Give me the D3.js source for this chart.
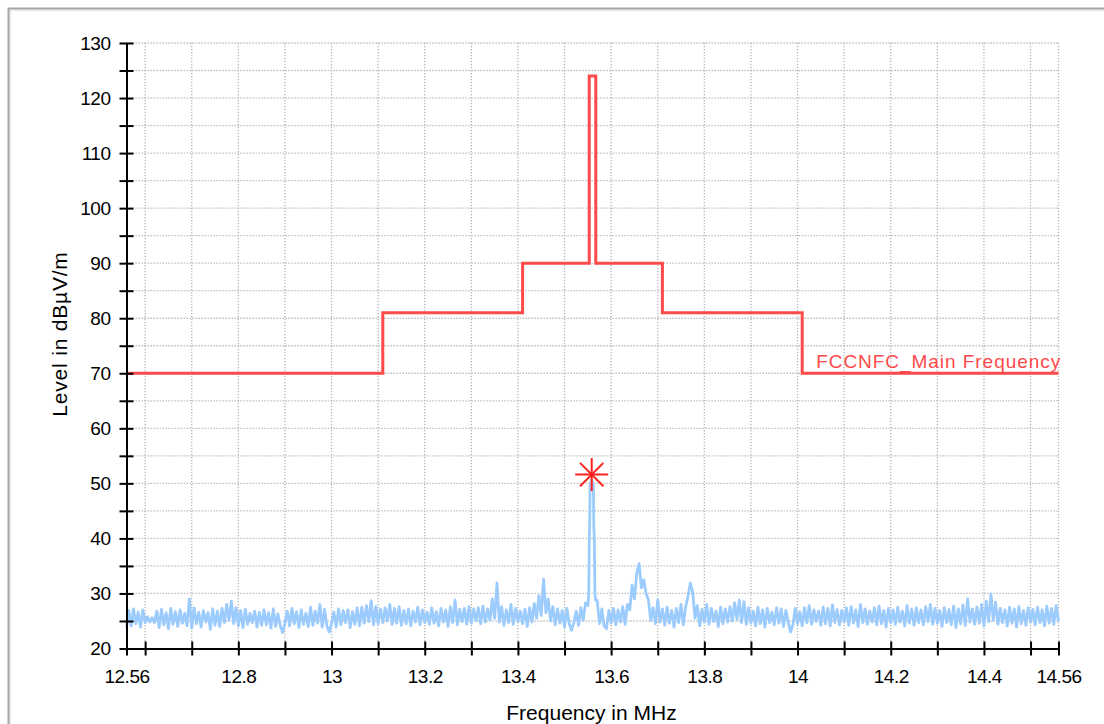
<!DOCTYPE html>
<html>
<head>
<meta charset="utf-8">
<script src="https://cdn.jsdelivr.net/npm/d3@7/dist/d3.min.js"></script>
<style>
  body { margin: 0; background: #fff; }
  svg { display: block; font-family: 'Liberation Sans', Arial, sans-serif; }
</style>
</head>
<body>
<div class="chart"></div>
<script>
// Limit line (FCC NFC main frequency mask), step after each start frequency
const limitFreq = [12.56, 13.11, 13.41, 13.553, 13.567, 13.71, 14.01, 14.56]
const limitLevel = [70, 81, 90, 124, 90, 81, 70, 70]
const limitName = 'FCCNFC_Main Frequency'

// Measured trace, one value every 0.005 MHz from 12.56 (null = covered by the peak below)
const noiseStart = 12.56
const noiseStep = 0.005
const noiseLevel = [
  23.8, 26.9, 24.1, 27.2, 24.5, 26.6, 23.9, 27.0, 24.7, 25.8,
  24.8, 25.6, 24.7, 26.8, 23.8, 27.1, 24.3, 26.5, 23.6, 27.3,
  24.4, 26.7, 24.0, 27.0, 24.6, 26.4, 24.1, 29.0, 23.7, 27.4,
  24.5, 26.6, 23.9, 26.9, 24.8, 26.5, 23.5, 27.2, 24.2, 26.8,
  24.0, 27.3, 24.7, 28.0, 25.1, 28.6, 24.5, 27.4, 24.1, 26.9,
  23.8, 27.1, 24.4, 26.4, 24.7, 26.8, 23.9, 26.6, 24.2, 27.0,
  24.3, 26.5, 23.7, 27.2, 24.0, 26.3, 24.1, 22.9, 24.6, 26.8,
  24.1, 27.3, 24.5, 26.7, 23.8, 27.0, 24.4, 26.4, 24.0, 27.5,
  24.2, 26.8, 24.6, 28.0, 23.9, 27.1, 24.1, 23.0, 24.5, 26.6,
  23.9, 27.2, 24.3, 26.9, 24.7, 27.0, 23.8, 26.7, 24.4, 27.4,
  24.1, 27.5, 24.6, 27.8, 24.9, 28.7, 24.3, 27.6, 24.5, 27.2,
  24.7, 27.4, 25.0, 28.0, 24.4, 27.3, 24.6, 27.6, 24.2, 26.9,
  24.5, 27.2, 24.1, 26.8, 24.8, 27.5, 24.3, 27.0, 24.7, 26.6,
  24.4, 27.4, 24.6, 26.7, 24.1, 27.3, 24.8, 27.0, 24.0, 27.6,
  24.7, 28.8, 24.3, 27.1, 24.9, 27.3, 24.4, 27.6, 24.6, 27.2,
  25.0, 27.4, 24.5, 27.7, 24.8, 27.2, 25.1, 29.0, 25.5, 31.9,
  24.8, 27.6, 24.2, 27.0, 24.7, 28.0, 24.4, 27.3, 24.9, 26.8,
  24.5, 27.1, 24.0, 27.4, 24.8, 28.2, 25.5, 29.6, 26.0, 32.6,
  26.5, 29.0, 25.0, 27.6, 24.3, 27.2, 24.6, 26.9, 23.9, 27.3,
  24.5, 23.3, 24.7, 26.8, 24.2, 27.4, 25.1, 28.3, 27.8, null,
  null, null, 28.8, 24.5, 27.2, 24.1, 23.6, 26.9, 24.6, 27.3,
  24.3, 27.0, 24.8, 27.6, 24.4, 28.0, 27.0, 31.5, 29.0, 33.7,
  35.4, 31.0, 32.5, 30.0, 28.8, 25.1, 27.4, 24.5, 28.8, 24.8,
  27.2, 24.2, 27.5, 24.6, 26.9, 23.9, 27.3, 24.7, 28.0, 24.3,
  27.6, 29.5, 31.9, 30.2, 25.5, 27.8, 24.1, 27.1, 24.8, 28.0,
  24.4, 27.3, 24.9, 26.8, 24.0, 27.5, 24.5, 27.2, 24.8, 27.6,
  25.0, 28.3, 25.3, 28.8, 24.7, 28.5, 24.4, 27.4, 24.6, 26.8,
  24.1, 27.5, 24.5, 27.0, 23.9, 27.3, 24.7, 26.6, 24.3, 27.4,
  24.6, 27.2, 24.0, 26.9, 24.8, 23.0, 24.3, 27.3, 24.5, 26.7,
  24.1, 27.4, 24.7, 27.8, 24.4, 27.0, 24.9, 26.8, 24.2, 27.5,
  24.5, 27.3, 24.1, 27.9, 24.7, 27.1, 24.3, 26.9, 24.8, 27.4,
  24.2, 27.6, 24.6, 27.0, 24.0, 28.0, 24.7, 27.2, 24.4, 26.8,
  24.8, 27.4, 24.3, 27.7, 24.5, 26.9, 23.9, 27.3, 24.7, 27.0,
  24.4, 27.5, 24.8, 26.8, 24.1, 27.8, 24.6, 27.2, 24.2, 27.4,
  24.7, 27.0, 24.3, 27.6, 24.9, 28.0, 24.4, 27.3, 24.6, 26.9,
  24.0, 27.4, 24.7, 27.1, 24.3, 27.7, 23.8, 27.2, 24.5, 27.9,
  24.2, 29.0, 24.8, 27.2, 24.4, 27.5, 24.6, 28.0, 24.1, 28.6,
  24.9, 29.9, 25.1, 28.4, 24.4, 27.3, 24.7, 27.0, 24.1, 27.5,
  24.6, 27.2, 23.9, 27.6, 24.5, 26.9, 24.2, 27.4, 24.8, 27.1,
  24.3, 27.5, 24.7, 27.0, 24.1, 27.7, 24.6, 27.3, 24.4, 27.8,
  24.9
]

// Carrier peak, finer resolution
const peakFreq = [13.552, 13.5532, 13.5539, 13.5548, 13.5583, 13.5618, 13.5629, 13.5637, 13.5652, 13.5666]
const peakLevel = [30.0, 40.4, 42.0, 49.8, 50.6, 49.8, 42.0, 40.4, 30.0, 28.8]

// Marker on the peak
const markerFreq = [13.5583]
const markerLevel = [51.6]

// Ticks
const xTicks = [12.56, 12.6, 12.7, 12.8, 12.9, 13, 13.1, 13.2, 13.3, 13.4, 13.5, 13.6, 13.7, 13.8, 13.9, 14, 14.1, 14.2, 14.3, 14.4, 14.5, 14.56]
const xTickLabels = [12.56, 12.8, 13, 13.2, 13.4, 13.6, 13.8, 14, 14.2, 14.4, 14.56]
const yTicks = d3.range(20, 131, 5)
const yTickLabels = d3.range(20, 131, 10)

// Canvas
const W = 1104, H = 724
const margin = {top: 43, left: 126.5}
const width = 932
const height = 605.5

const svg = d3.select('.chart')
  .append('svg')
  .attr('width', W)
  .attr('height', H)

// Frame
svg.append('rect')
  .attr('x', 8.5).attr('y', 8.5)
  .attr('width', W + 20).attr('height', H + 20)
  .attr('fill', 'none').attr('stroke', '#a4a4a4').attr('stroke-width', 2)
svg.append('rect')
  .attr('x', 10.5).attr('y', 10.5)
  .attr('width', W + 20).attr('height', H + 20)
  .attr('fill', 'none').attr('stroke', '#e6e6e6').attr('stroke-width', 1)

const g = svg.append('g')
  .attr('transform', 'translate(' + margin.left + ',' + margin.top + ')')

const x = d3.scaleLinear().domain([12.56, 14.56]).range([0, width])
const y = d3.scaleLinear().domain([20, 130]).range([height, 0])

// Grid
g.append('g')
  .selectAll('line')
  .data(xTicks.filter(d => d > 12.56))
  .enter()
  .append('line')
  .attr('x1', d => x(d)).attr('x2', d => x(d))
  .attr('y1', 0).attr('y2', height)
  .attr('stroke', '#b4b4b4').attr('stroke-width', 1.3)
  .attr('stroke-dasharray', '1.3,1.7')

g.append('g')
  .selectAll('line')
  .data(yTicks.filter(d => d > 20))
  .enter()
  .append('line')
  .attr('x1', 0).attr('x2', width)
  .attr('y1', d => y(d)).attr('y2', d => y(d))
  .attr('stroke', '#b4b4b4').attr('stroke-width', 1.3)
  .attr('stroke-dasharray', '1.3,1.7')

// Trace
const tracePts = noiseLevel
  .map((v, i) => ({f: noiseStart + i * noiseStep, v: v}))
  .filter(d => d.v !== null)
  .concat(peakFreq.map((f, i) => ({f: f, v: peakLevel[i]})))
  .sort((a, b) => a.f - b.f)

const line = d3.line().x(d => x(d.f)).y(d => y(d.v))

g.append('path')
  .datum(tracePts)
  .attr('d', line)
  .attr('fill', 'none')
  .attr('stroke', '#9ccbfd')
  .attr('stroke-width', 2.8)
  .attr('stroke-linejoin', 'round')

// Limit
const limitLine = d3.line()
  .x(d => x(d[0])).y(d => y(d[1]))
  .curve(d3.curveStepAfter)

g.append('path')
  .datum(limitFreq.map((f, i) => [f, limitLevel[i]]))
  .attr('d', limitLine)
  .attr('fill', 'none')
  .attr('stroke', '#ff4a4a')
  .attr('stroke-width', 3)

g.append('text')
  .attr('x', x(14.04))
  .attr('y', y(70) - 5.5)
  .attr('fill', '#ff4a4a')
  .attr('font-size', 19)
  .attr('textLength', 244)
  .text(limitName)

// Marker
const r = 16.5
markerFreq.forEach((f, i) => {
  const cx = x(f), cy = y(markerLevel[i])
  const spokes = [0, 45, 90, 135]
  g.append('g')
    .selectAll('line')
    .data(spokes)
    .enter()
    .append('line')
    .attr('x1', a => cx - r * Math.cos(a * Math.PI / 180))
    .attr('y1', a => cy - r * Math.sin(a * Math.PI / 180))
    .attr('x2', a => cx + r * Math.cos(a * Math.PI / 180))
    .attr('y2', a => cy + r * Math.sin(a * Math.PI / 180))
    .attr('stroke', '#ff2020')
    .attr('stroke-width', 2)
})

// Axes
const xAxis = d3.axisBottom(x)
  .tickValues(xTicks)
  .tickSizeInner(7)
  .tickSizeOuter(0)
  .tickFormat(d => xTickLabels.indexOf(d) >= 0 ? d3.format('')(+d.toFixed(2)) : '')

const xg = g.append('g')
  .attr('class', 'axis')
  .attr('transform', 'translate(0,' + height + ')')
  .call(xAxis)

const yAxis = d3.axisLeft(y)
  .tickValues(yTicks)
  .tickSizeInner(7)
  .tickSizeOuter(0)
  .tickFormat(d => yTickLabels.indexOf(d) >= 0 ? d : '')

const yg = g.append('g')
  .attr('class', 'axis')
  .call(yAxis)

// axis style: thick black line, ticks crossing the axis
xg.select('.domain').attr('stroke', '#000').attr('stroke-width', 2)
yg.select('.domain').attr('stroke', '#000').attr('stroke-width', 2)
xg.selectAll('.tick line').attr('y1', -7).attr('y2', 7).attr('stroke', '#000').attr('stroke-width', 2)
yg.selectAll('.tick line').attr('x1', -7).attr('x2', 7).attr('stroke', '#000').attr('stroke-width', 2)
xg.selectAll('.tick text')
  .attr('y', 21)
  .attr('dy', '0.71em')
  .attr('font-size', 19)
  .attr('letter-spacing', -0.5)
  .attr('fill', '#000')
  .attr('font-family', "'Liberation Sans', Arial, sans-serif")
yg.selectAll('.tick text')
  .attr('x', -16)
  .attr('font-size', 19)
  .attr('letter-spacing', -0.5)
  .attr('fill', '#000')
  .attr('font-family', "'Liberation Sans', Arial, sans-serif")

// Axis titles
svg.append('text')
  .attr('x', margin.left + x(13.56) - 1)
  .attr('y', 720)
  .attr('text-anchor', 'middle')
  .attr('font-size', 21)
  .text('Frequency in MHz')

svg.append('text')
  .attr('transform', 'translate(67,' + 334 + ') rotate(-90)')
  .attr('text-anchor', 'middle')
  .attr('font-size', 21)
  .attr('letter-spacing', 0.8)
  .text('Level in dBµV/m')
</script>
</body>
</html>
